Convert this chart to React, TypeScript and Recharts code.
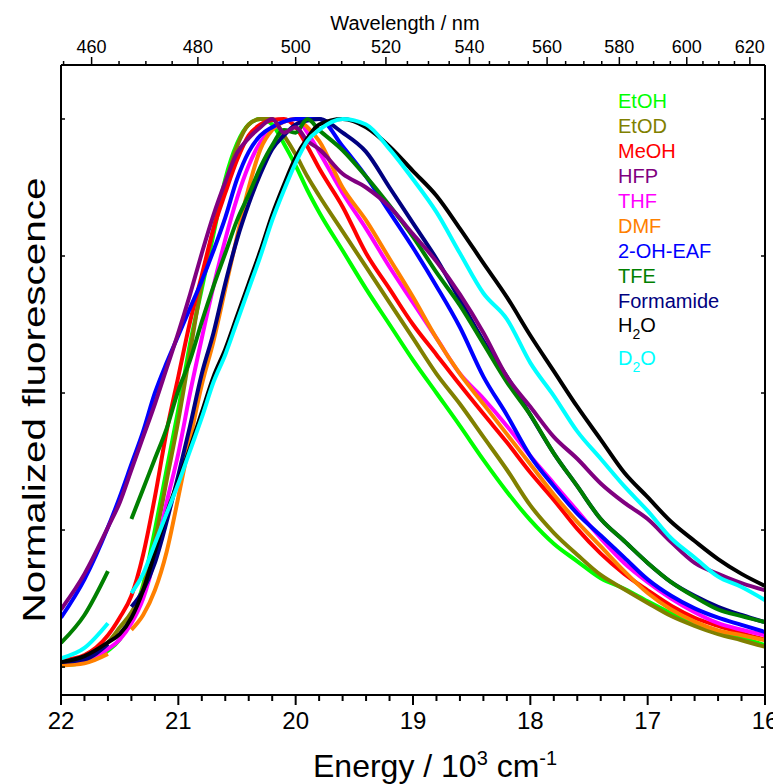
import React from 'react';
import { LineChart, Line, XAxis, YAxis } from 'recharts';

// energy grid in 10^3 cm^-1
const energy = [
  22, 21.8, 21.6, 21.5, 21.4, 21.3, 21.2, 21.1, 21.0, 20.9, 20.8, 20.7, 20.6, 20.5, 20.4, 20.3, 20.2, 20.1, 20.0, 19.9,
  19.8, 19.6, 19.4, 19.2, 19.0, 18.8, 18.6, 18.4, 18.2, 18.0, 17.8, 17.6, 17.4, 17.2, 17.0, 16.8, 16.6, 16.4, 16.2, 16.0,
];

const etoh = [
  0.003, 0.008, 0.03, 0.05, 0.09, 0.15, 0.25, 0.36, 0.47, 0.59, 0.69, 0.79, 0.89, 0.955, 0.99, 1.0, 0.99, 0.955, 0.915, 0.87,
  0.83, 0.76, 0.69, 0.625, 0.56, 0.5, 0.44, 0.378, 0.32, 0.268, 0.225, 0.193, 0.162, 0.143, 0.12, 0.098, 0.077, 0.063, 0.053, 0.04,
];
const etod = [
  0.005, 0.012, 0.045, 0.072, 0.1, 0.145, 0.23, 0.34, 0.45, 0.575, 0.7, 0.8, 0.88, 0.95, 0.99, 1.0, 1.0, 0.97, 0.935, 0.895,
  0.86, 0.795, 0.73, 0.665, 0.6, 0.535, 0.48, 0.42, 0.36, 0.295, 0.245, 0.205, 0.168, 0.142, 0.117, 0.093, 0.075, 0.06, 0.049, 0.037,
];
const meoh = [
  0.012, 0.022, 0.058, 0.09, 0.13, 0.205, 0.31, 0.43, 0.53, 0.63, 0.715, 0.8, 0.865, 0.925, 0.97, 0.99, 0.998, 1.0, 0.985, 0.95,
  0.91, 0.84, 0.755, 0.69, 0.625, 0.57, 0.515, 0.462, 0.41, 0.355, 0.305, 0.252, 0.207, 0.17, 0.14, 0.112, 0.09, 0.075, 0.062, 0.05,
];
const hfp = [
  0.105, 0.17, 0.255, 0.3, 0.36, 0.42, 0.48, 0.545, 0.61, 0.68, 0.755, 0.825, 0.885, 0.938, 0.965, 0.985, 1.0, 0.975, 0.985, 0.96,
  0.945, 0.9, 0.875, 0.84, 0.79, 0.74, 0.68, 0.61, 0.53, 0.475, 0.42, 0.38, 0.335, 0.3, 0.27, 0.228, 0.19, 0.17, 0.153, 0.14,
];
const thf = [
  0.007, 0.012, 0.033, 0.05, 0.08, 0.125, 0.2, 0.3, 0.39, 0.5, 0.6, 0.695, 0.78, 0.855, 0.915, 0.958, 0.982, 0.995, 1.0, 0.975,
  0.94, 0.865, 0.8, 0.73, 0.665, 0.6, 0.535, 0.49, 0.44, 0.385, 0.335, 0.285, 0.235, 0.19, 0.155, 0.125, 0.1, 0.08, 0.068, 0.058,
];
const dmf = [
  0.003, 0.007, 0.024, null, 0.068, 0.095, 0.14, 0.21, 0.31, 0.415, 0.515, 0.595, 0.69, 0.785, 0.875, 0.945, 0.98, 0.995, 1.0, 0.985,
  0.96, 0.875, 0.815, 0.745, 0.675, 0.6, 0.535, 0.48, 0.425, 0.37, 0.315, 0.265, 0.22, 0.175, 0.135, 0.105, 0.083, 0.067, 0.058, 0.049,
];
const ohEaf = [
  0.09, 0.16, 0.255, 0.31, 0.37, 0.43, 0.5, 0.555, 0.605, 0.655, 0.705, 0.76, 0.82, 0.89, 0.94, 0.97, 0.985, 0.995, 1.0, 1.0,
  1.0, 0.95, 0.895, 0.83, 0.765, 0.695, 0.62, 0.53, 0.46, 0.385, 0.33, 0.28, 0.24, 0.2, 0.16, 0.13, 0.107, 0.09, 0.077, 0.064,
];
const tfe = [
  0.044, 0.095, 0.175, null, 0.27, 0.325, 0.38, 0.435, 0.505, 0.56, 0.63, 0.695, 0.755, 0.815, 0.862, 0.912, 0.952, 0.98, 0.975, 1.0,
  0.98, 0.943, 0.895, 0.842, 0.785, 0.72, 0.66, 0.59, 0.52, 0.46, 0.39, 0.33, 0.27, 0.23, 0.19, 0.155, 0.128, 0.105, 0.093, 0.082,
];
const formamide = [
  0.009, 0.014, 0.042, null, 0.11, 0.14, 0.19, 0.265, 0.35, 0.44, 0.535, 0.61, 0.7, 0.78, 0.845, 0.9, 0.945, 0.97, 0.99, 0.997,
  1.0, 0.975, 0.94, 0.875, 0.81, 0.745, 0.67, 0.595, 0.53, 0.46, 0.39, 0.33, 0.27, 0.23, 0.19, 0.155, 0.13, 0.11, 0.095, 0.082,
];
const h2o = [
  0.009, 0.02, 0.045, 0.06, 0.09, 0.14, 0.21, 0.28, 0.34, 0.4, 0.465, 0.53, 0.58, 0.64, 0.7, 0.76, 0.825, 0.88, 0.93, 0.965,
  0.99, 1.0, 0.985, 0.95, 0.905, 0.86, 0.8, 0.737, 0.675, 0.605, 0.54, 0.475, 0.415, 0.355, 0.31, 0.265, 0.23, 0.197, 0.17, 0.148,
];
const d2o = [
  0.016, 0.035, 0.08, null, 0.135, 0.17, 0.225, 0.28, 0.335, 0.395, 0.455, 0.52, 0.57, 0.63, 0.69, 0.75, 0.815, 0.87, 0.92, 0.96,
  0.98, 1.0, 0.99, 0.945, 0.89, 0.83, 0.755, 0.682, 0.635, 0.555, 0.495, 0.43, 0.38, 0.33, 0.285, 0.235, 0.2, 0.165, 0.146, 0.122,
];

// axis ticks
const energyMajor = [22, 21, 20, 19, 18, 17, 16];
const wavelengthMajor = [460, 480, 500, 520, 540, 560, 580, 600, 620];
const yTicks = [0, 0.25, 0.5, 0.75, 1];

const energyTicks: number[] = [];
for (let i = 0; i <= 30; i++) energyTicks.push(+(22 - i * 0.2).toFixed(1));
const wavelengthTicks: number[] = [];
for (let wl = 455; wl <= 620; wl += 5) wavelengthTicks.push(10000 / wl);

const series = [
  { key: 'etoh', name: 'EtOH', color: '#00ff00', values: etoh },
  { key: 'etod', name: 'EtOD', color: '#808000', values: etod },
  { key: 'meoh', name: 'MeOH', color: '#ff0000', values: meoh },
  { key: 'thf', name: 'THF', color: '#ff00ff', values: thf },
  { key: 'dmf', name: 'DMF', color: '#ff8000', values: dmf },
  { key: 'ohEaf', name: '2-OH-EAF', color: '#0000ff', values: ohEaf },
  { key: 'formamide', name: 'Formamide', color: '#000080', values: formamide },
  { key: 'tfe', name: 'TFE', color: '#008000', values: tfe },
  { key: 'hfp', name: 'HFP', color: '#800080', values: hfp },
  { key: 'h2o', name: 'H2O', color: '#000000', values: h2o },
  { key: 'd2o', name: 'D2O', color: '#00ffff', values: d2o },
];

const data = energy.map((e, i) => {
  const row: Record<string, number | null> = { e };
  series.forEach(s => {
    row[s.key] = s.values[i];
  });
  return row;
});

const FONT = '"Liberation Sans", Arial, sans-serif';

const BottomTick = (props: any) => {
  const { x, y, payload } = props;
  const v = payload.value;
  const major = energyMajor.includes(v);
  return (
    <g>
      <line x1={x} y1={y} x2={x} y2={y + (major ? 10 : 6)} stroke="#000" strokeWidth={2} />
      {major && (
        <text x={x} y={y + 34} textAnchor="middle" fontSize={24} fontFamily={FONT} fill="#000">
          {v}
        </text>
      )}
    </g>
  );
};

const TopTick = (props: any) => {
  const { x, y, payload } = props;
  const wl = Math.round(10000 / payload.value);
  const major = wavelengthMajor.includes(wl);
  return (
    <g>
      <line x1={x} y1={y} x2={x} y2={y - (major ? 8 : 4)} stroke="#000" strokeWidth={1.5} />
      {major && (
        <text x={x} y={y - 12} textAnchor="middle" fontSize={18} fontFamily={FONT} fill="#000">
          {wl}
        </text>
      )}
    </g>
  );
};

const LeftTick = (props: any) => {
  const { x, y } = props;
  return <line x1={x} y1={y} x2={x + 4} y2={y} stroke="#000" strokeWidth={1.5} />;
};

const RightTick = (props: any) => {
  const { x, y } = props;
  return <line x1={x} y1={y} x2={x - 4} y2={y} stroke="#000" strokeWidth={1.5} />;
};

const legendRows = [
  { name: 'EtOH', color: '#00ff00', y: 100 },
  { name: 'EtOD', color: '#808000', y: 125 },
  { name: 'MeOH', color: '#ff0000', y: 150 },
  { name: 'HFP', color: '#800080', y: 175 },
  { name: 'THF', color: '#ff00ff', y: 200 },
  { name: 'DMF', color: '#ff8000', y: 225 },
  { name: '2-OH-EAF', color: '#0000ff', y: 250 },
  { name: 'TFE', color: '#008000', y: 275 },
  { name: 'Formamide', color: '#000080', y: 300 },
];

export default function App() {
  const W = 773;
  const H = 776;
  return (
    <div style={{ position: 'relative', width: W, height: H }}>
      <LineChart width={W} height={H} data={data} margin={{ top: 56, right: 15, bottom: 88, left: 52 }}>
        <XAxis
          xAxisId="bottom"
          dataKey="e"
          type="number"
          domain={[16, 22]}
          reversed
          allowDataOverflow
          ticks={energyTicks}
          interval={0}
          height={1}
          tickSize={0}
          tickMargin={0}
          tickLine={false}
          tick={<BottomTick />}
          axisLine={{ stroke: '#000', strokeWidth: 2 }}
        />
        <XAxis
          xAxisId="top"
          dataKey="e"
          orientation="top"
          type="number"
          domain={[16, 22]}
          reversed
          allowDataOverflow
          ticks={wavelengthTicks}
          interval={0}
          height={1}
          tickSize={0}
          tickMargin={0}
          tickLine={false}
          tick={<TopTick />}
          axisLine={{ stroke: '#000', strokeWidth: 2 }}
        />
        <YAxis
          yAxisId="left"
          type="number"
          domain={[-0.051, 1.0985]}
          allowDataOverflow
          ticks={yTicks}
          interval={0}
          width={1}
          tickSize={0}
          tickMargin={0}
          tickLine={false}
          tick={<LeftTick />}
          axisLine={{ stroke: '#000', strokeWidth: 2 }}
        />
        <YAxis
          yAxisId="right"
          orientation="right"
          type="number"
          domain={[-0.051, 1.0985]}
          allowDataOverflow
          ticks={yTicks}
          interval={0}
          width={1}
          tickSize={0}
          tickMargin={0}
          tickLine={false}
          tick={<RightTick />}
          axisLine={{ stroke: '#000', strokeWidth: 2 }}
        />
        {series.map(s => (
          <Line
            key={s.key}
            xAxisId="bottom"
            yAxisId="left"
            type="monotone"
            dataKey={s.key}
            name={s.name}
            stroke={s.color}
            strokeWidth={4}
            dot={false}
            activeDot={false}
            isAnimationActive={false}
          />
        ))}
      </LineChart>
      <svg
        width={W}
        height={H}
        style={{ position: 'absolute', left: 0, top: 0, pointerEvents: 'none' }}
        fontFamily={FONT}
      >
        <text x={397} y={22} textAnchor="middle" fontSize={20} fill="#000">
          Wavelength / nm
        </text>
        <text x={305} y={769} fontSize={32} fill="#000">
          Energy / 10
          <tspan dy={-12} fontSize={20}>3</tspan>
          <tspan dy={12}> cm</tspan>
          <tspan dy={-12} fontSize={20}>-1</tspan>
        </text>
        <text
          transform="translate(37, 392) rotate(-90)"
          textAnchor="middle"
          fontSize={31}
          textLength={445}
          lengthAdjust="spacingAndGlyphs"
          fill="#000"
        >
          Normalized fluorescence
        </text>
        {legendRows.map(r => (
          <text key={r.name} x={610} y={r.y} fontSize={20} fill={r.color}>
            {r.name}
          </text>
        ))}
        <text x={610} y={324} fontSize={20} fill="#000000">
          H<tspan dy={7} fontSize={14}>2</tspan>
          <tspan dy={-7}>O</tspan>
        </text>
        <text x={610} y={357} fontSize={20} fill="#00ffff">
          D<tspan dy={7} fontSize={14}>2</tspan>
          <tspan dy={-7}>O</tspan>
        </text>
      </svg>
    </div>
  );
}
